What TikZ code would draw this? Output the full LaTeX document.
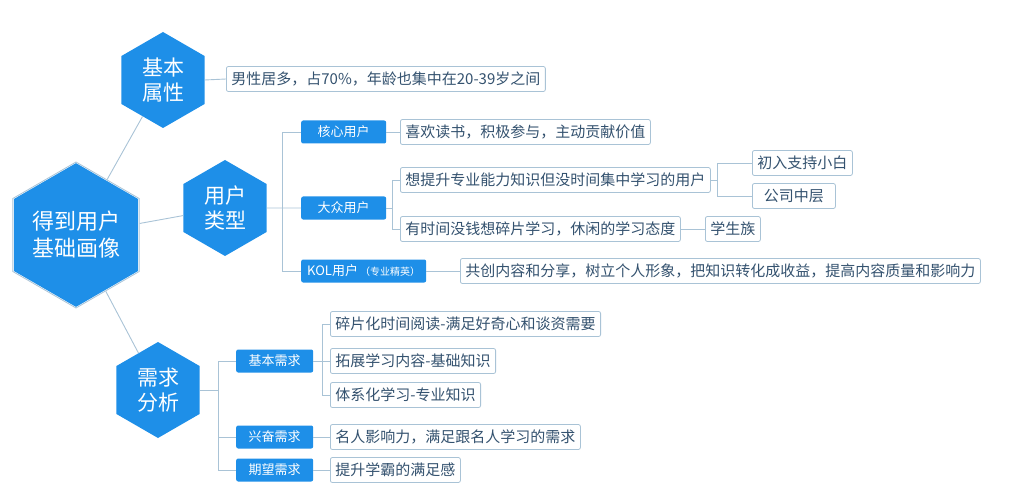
\documentclass[tikz,border=0pt]{standalone}
\usepackage{fontspec}
\setmainfont{Noto Sans CJK SC}
\usetikzlibrary{shapes.geometric}
\definecolor{hexblue}{HTML}{1E8FE8}
\definecolor{linegray}{HTML}{A9C3D6}
\definecolor{leaftext}{HTML}{34526F}
\tikzset{
  hexa/.style={regular polygon, regular polygon sides=6, shape border rotate=30,
    fill=hexblue, draw=none, text=white, inner sep=0pt, minimum size=96pt,
    align=center, font=\fontsize{21}{25}\selectfont},
  hexring/.style={regular polygon, regular polygon sides=6, shape border rotate=30,
    draw=linegray, line width=0.8pt, fill=white, minimum size=146pt, inner sep=0pt},
  tagbox/.style={fill=hexblue, text=white, rounded corners=2pt, anchor=west,
    minimum height=23pt, inner xsep=6pt, inner ysep=0pt, font=\fontsize{13}{15}\selectfont},
  leafbox/.style={draw=linegray, line width=0.8pt, fill=white, text=leaftext,
    rounded corners=2pt, anchor=west, minimum height=25pt, inner xsep=5pt,
    inner ysep=0pt, font=\fontsize{15}{17}\selectfont},
  link/.style={draw=linegray, line width=0.9pt}
}
\begin{document}
\begin{tikzpicture}[x=1pt, y=-1pt]
  \useasboundingbox (0,0) rectangle (1010,500);

  % hexagons
  \node[hexring] (ring) at (76,235) {};
  \node[hexa, minimum size=128pt, font=\fontsize{22}{27}\selectfont] (hx) at (76,235) {得到用户\\基础画像};
  \node[hexa] (jbsx) at (163,80) {基本\\属性};
  \node[hexa] (yhlx) at (225,208) {用户\\类型};
  \node[hexa] (xqfx) at (158,390) {需求\\分析};
  \draw[link] (ring) -- (jbsx);
  \draw[link] (ring) -- (yhlx);
  \draw[link] (ring) -- (xqfx);

  % basic attributes
  \node[leafbox] (nan) at (226,79) {男性居多，占70\%，年龄也集中在20-39岁之间};
  \draw[link] (jbsx.east) -- (nan.west);

  % user types
  \node[tagbox, minimum width=85pt] (hxyh) at (301,132) {核心用户};
  \node[tagbox, minimum width=85pt] (dzyh) at (301,208) {大众用户};
  \node[tagbox] (kol) at (301,271) {KOL用户\,{\fontsize{10}{12}\selectfont（专业精英）}};
  \draw[link] (yhlx.east) -- (dzyh.west);
  \draw[link] (yhlx.east) ++(16,0) coordinate (t1) |- (hxyh.west);
  \draw[link] (t1) |- (kol.west);

  \node[leafbox] (xhds) at (400,132) {喜欢读书，积极参与，主动贡献价值};
  \draw[link] (hxyh.east) -- (xhds.west);

  \node[leafbox] (xts) at (400,180) {想提升专业能力知识但没时间集中学习的用户};
  \node[leafbox] (ysj) at (400,229) {有时间没钱想碎片学习，休闲的学习态度};
  \draw[link] (dzyh.east) -- ++(6,0) coordinate (t2) |- (xts.west);
  \draw[link] (t2) |- (ysj.west);

  \node[leafbox] (crzc) at (752,163) {初入支持小白};
  \node[leafbox, minimum width=83pt] (gszc) at (752,196) {公司中层};
  \draw[link] (xts.east) -- ++(7,0) coordinate (t3) |- (crzc.west);
  \draw[link] (t3) |- (gszc.west);

  \node[leafbox] (xsz) at (705,229) {学生族};
  \draw[link] (ysj.east) -- (xsz.west);

  \node[leafbox] (gcnr) at (460,271) {共创内容和分享，树立个人形象，把知识转化成收益，提高内容质量和影响力};
  \draw[link] (kol.east) -- (gcnr.west);

  % needs
  \node[tagbox, minimum width=77pt] (jbxq) at (236,361) {基本需求};
  \node[tagbox, minimum width=77pt] (xfxq) at (236,437) {兴奋需求};
  \node[tagbox, minimum width=77pt] (qwxq) at (236,470) {期望需求};
  \draw[link] (xqfx.east) -- ++(19,0) coordinate (t4) |- (jbxq.west);
  \draw[link] (t4) |- (xfxq.west);
  \draw[link] (t4) |- (qwxq.west);

  \node[leafbox] (spyd) at (330,324) {碎片化时间阅读-满足好奇心和谈资需要};
  \node[leafbox] (tzxx) at (330,361) {拓展学习内容-基础知识};
  \node[leafbox] (txxx) at (330,395) {体系化学习-专业知识};
  \draw[link] (jbxq.east) -- ++(9,0) coordinate (t5) |- (spyd.west);
  \draw[link] (t5) |- (tzxx.west);
  \draw[link] (t5) |- (txxx.west);

  \node[leafbox] (mryx) at (330,437) {名人影响力，满足跟名人学习的需求};
  \node[leafbox] (tsxb) at (330,470) {提升学霸的满足感};
  \draw[link] (xfxq.east) -- (mryx.west);
  \draw[link] (qwxq.east) -- (tsxb.west);
\end{tikzpicture}
\end{document}
